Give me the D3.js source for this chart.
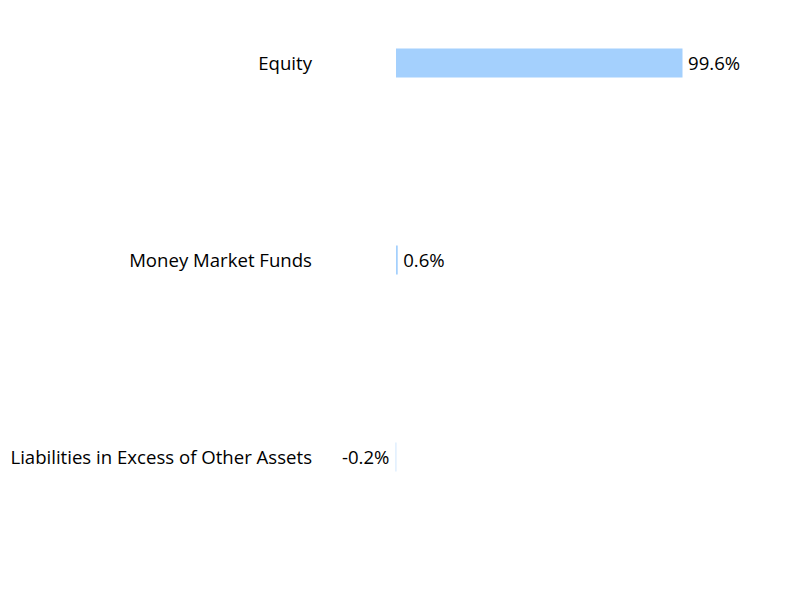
<!DOCTYPE html>
<html><head><meta charset="utf-8">
<script src="https://cdn.jsdelivr.net/npm/d3@7"></script>
<style>body{margin:0;background:#fff}svg{display:block}</style>
</head><body>
<svg id="c" width="792" height="600"></svg>
<script>
const categories = ["Equity", "Money Market Funds", "Liabilities in Excess of Other Assets"];
const values = [99.6, 0.6, -0.2];
const labels = ["99.6%", "0.6%", "-0.2%"];

const svg = d3.select("#c");
const x = d3.scaleLinear().domain([0, 99.6]).range([396, 682.5]);
const y = d3.scaleBand().domain(categories).range([-35.5, 555.5]).padding(0);
const font = "'Open Sans', sans-serif";
const fs = "18.6px";
const bh = 29;
const yc = d => y(d) + y.bandwidth() / 2;

svg.selectAll("rect.bar").data(values).join("rect")
  .attr("class", "bar")
  .attr("x", d => Math.min(x(0), x(d)))
  .attr("width", d => Math.max(Math.abs(x(d) - x(0)), 1))
  .attr("y", (d, i) => yc(categories[i]) - bh / 2)
  .attr("height", bh)
  .attr("fill", "#a4d0fd")
  .attr("fill-opacity", d => d < 0 ? 0.5 : 1);

svg.selectAll("text.cat").data(categories).join("text")
  .attr("class", "cat")
  .attr("x", 312).attr("y", d => yc(d))
  .attr("dy", "0.35em").attr("text-anchor", "end")
  .style("font-family", font).style("font-size", fs).attr("fill", "#000")
  .text(d => d);

svg.selectAll("text.val").data(values).join("text")
  .attr("class", "val")
  .attr("x", d => d >= 0 ? x(d) + 5.5 : x(d) - 6)
  .attr("y", (d, i) => yc(categories[i]))
  .attr("dy", "0.35em").attr("text-anchor", d => d >= 0 ? "start" : "end")
  .style("font-family", font).style("font-size", fs).attr("fill", "#000")
  .text((d, i) => labels[i]);
</script>
</body></html>
